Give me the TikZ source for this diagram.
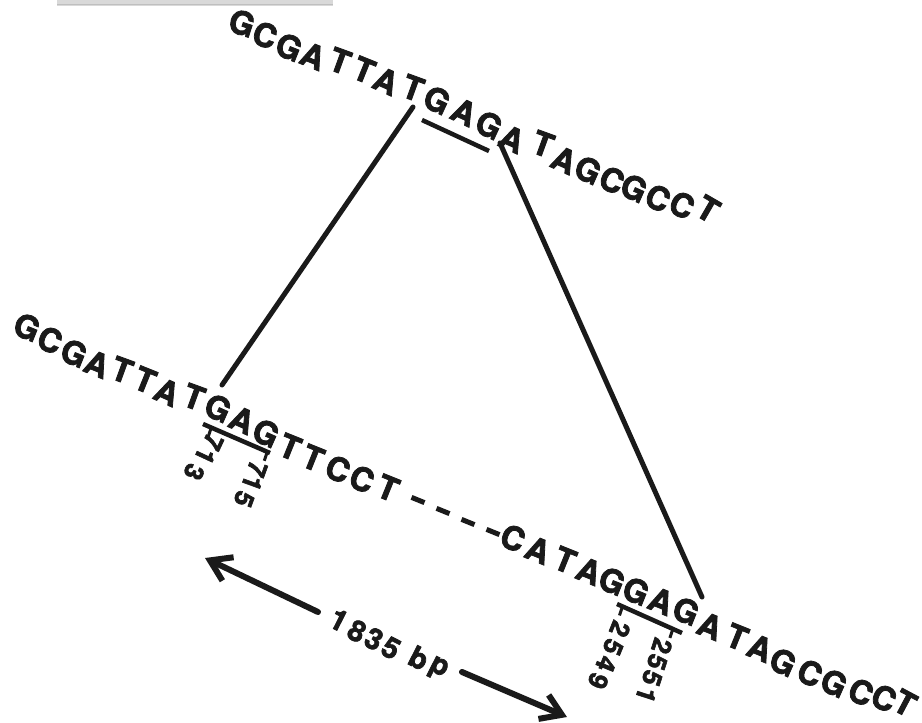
\documentclass[tikz,border=0pt]{standalone}
\usepackage{fontspec}
\setmainfont{TeX Gyre Heros}[BoldFeatures={FakeBold=2.4}]
\usetikzlibrary{arrows.meta,calc}
\definecolor{ink}{HTML}{1A1A1A}
\begin{document}
\begin{tikzpicture}[x=1pt,y=-1pt,
  seq/.style={font=\fontsize{32.5}{33}\selectfont\bfseries, inner sep=0pt, text=ink},
  num/.style={font=\fontsize{26}{26}\selectfont\bfseries, inner sep=0pt, text=ink},
  bplab/.style={font=\fontsize{29}{29}\selectfont\bfseries, inner sep=0pt, text=ink, rotate=-27},
  link/.style={line width=5pt, draw=ink, line cap=round},
  uline/.style={line width=4.5pt, draw=ink},
  tickmark/.style={line width=3pt, draw=ink},
  arr/.style={line width=6pt, draw=ink, line cap=round, -{Straight Barb[length=20pt,width=26pt]}},
  dashbar/.style={fill=ink, inner sep=0pt, minimum width=14pt, minimum height=5pt, rotate=-22}]
\useasboundingbox (0,0) rectangle (922,723);
% scan strip at the top
\fill[gray!30] (57,0) rectangle (333,6);
\draw[gray!50, line width=1.5pt] (57,4.5) -- (333,4.5);

% top sequence
\foreach \c/\x/\y/\r [count=\i] in {
  G/242/23/-18, C/265/35/-20, G/289/47/-22, A/313/56/-22, T/340/61/-20,
  T/364/70/-22, A/386/81/-24, T/413/88/-20, G/437/100/-25, A/464/112/-25,
  G/489/125/-25, A/512/139/-24, T/543/144/-20, A/564/160/-24, G/588/170/-24,
  C/612/180/-24, G/634/188/-24, C/658/198/-25, C/682/205/-25, T/708/209/-30}
  \node[seq, rotate=\r] (t\i) at (\x,\y) {\c};

% lower sequence
\foreach \c/\x/\y/\r [count=\i] in {
  G/27/327/-22, C/50/340/-22, G/74/353/-22, A/97/364/-22, T/122/370/-20,
  T/145/380/-22, A/167/392/-24, T/194/397/-20, G/218/408/-24, A/242/420/-24,
  G/266/433/-24, T/290/447/-22, T/313/458/-22, C/338/469/-22, C/362/479/-22,
  T/388/488/-22}
  \node[seq, rotate=\r] (l\i) at (\x,\y) {\c};
\foreach \x/\y [count=\i] in {418/500, 443/511, 468/522, 493/532}
  \node[dashbar] (d\i) at (\x,\y) {};
\foreach \c/\x/\y/\r [count=\i] in {
  C/513/538/-22, A/538/550/-22, T/565/560/-22, A/589/571/-22, G/612/581/-22,
  G/636/591/-22, A/661/601/-22, G/686/611/-22, A/710/626/-22, T/737/637/-22,
  A/760/648/-22, G/783/662/-24, C/810/673/-24, G/834/683/-24, C/861/692/-24,
  C/884/698/-25, T/905/703/-28}
  \node[seq, rotate=\r] (r\i) at (\x,\y) {\c};

% underlines
\coordinate (u0a) at (422,120); \coordinate (u0b) at (489,151);
\coordinate (u1a) at (203,424); \coordinate (u1b) at (270,453);
\coordinate (u2a) at (617,604); \coordinate (u2b) at (682,633);
\draw[uline] (u0a) -- (u0b);
\draw[uline] (u1a) -- (u1b);
\draw[uline] (u2a) -- (u2b);
\draw[tickmark] ($(u1a)!9pt!(u1b)$) -- ++(-3,9);
\draw[tickmark] ($(u1b)!3pt!(u1a)$) -- ++(-3,9);
\draw[tickmark] ($(u2a)!6pt!(u2b)$) -- ++(-3,9);
\draw[tickmark] ($(u2b)!10pt!(u2a)$) -- ++(-3,9);

% position numbers
\foreach \c/\x/\y [count=\i] in {7/213/442, 1/205/456, 3/194/472}
  \node[num, rotate=-115] (na\i) at (\x,\y) {\c};
\foreach \c/\x/\y [count=\i] in {7/257/469, 1/252/483, 5/244/499}
  \node[num, rotate=-110] (nb\i) at (\x,\y) {\c};
\foreach \c/\x/\y [count=\i] in {2/620/629, 5/613/647, 4/606/664, 9/598/681}
  \node[num, rotate=-112] (nc\i) at (\x,\y) {\c};
\foreach \c/\x/\y [count=\i] in {2/662/646, 5/657/662, 5/652/678, 1/646/695}
  \node[num, rotate=-108] (nd\i) at (\x,\y) {\c};

% connecting lines
\coordinate (k1a) at (413,107); \coordinate (k1b) at (222,385);
\coordinate (k2a) at (500,143); \coordinate (k2b) at (702,597);
\draw[link] (k1a) -- (k1b);
\draw[link] (k2a) -- (k2b);

% distance arrows and label
\foreach \c/\x/\y [count=\i] in {1/339/620, 8/357/631, 3/374/639, 5/391/648, b/419/658, p/438/669}
  \node[bplab] (bp\i) at (\x,\y) {\c};
\coordinate (a1s) at (318,612); \coordinate (a1e) at (205,558);
\coordinate (a2s) at (462,672); \coordinate (a2e) at (567,717);
\draw[arr] (a1s) -- (a1e);
\draw[arr] (a2s) -- (a2e);
\end{tikzpicture}
\end{document}
